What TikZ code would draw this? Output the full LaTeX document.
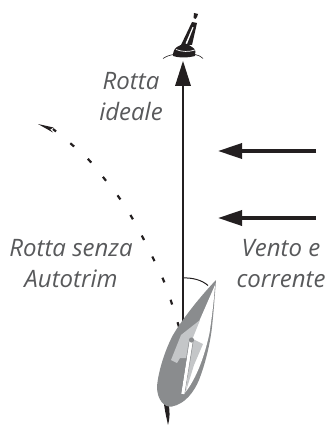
\documentclass[tikz,border=0pt]{standalone}
\usepackage{fontspec}
\setmainfont{Open Sans}
\usetikzlibrary{arrows.meta}
\definecolor{lbl}{HTML}{58595B}
\definecolor{hull}{HTML}{8A8C8E}
\definecolor{deck}{HTML}{C4C6C8}
\definecolor{ink}{HTML}{231F20}
\tikzset{
  lab/.style={text=lbl,font=\itshape\fontsize{24}{31}\selectfont,align=center,inner sep=0pt},
  shaft/.style={draw=ink,line width=2.3pt},
  fat/.style={draw=ink,line width=3.4pt,-{Triangle[length=24pt,width=15pt]}},
  dots/.style={draw=ink,line width=2.2pt,dash pattern=on 5pt off 18.5pt}
}
\begin{document}
\begin{tikzpicture}[x=1pt,y=-1pt]
\useasboundingbox (0,0) rectangle (328,425);
% labels
\node[lab] (ideale) at (131,97) {Rotta\\ideale};
\node[lab] (senza) at (71,264) {Rotta senza\\Autotrim};
\node[lab] (vento) at (281,264) {Vento e\\corrente};
% buoy
\fill[ink] (194,13) -- (198,14) -- (197,17) -- (195.5,19) -- (193.5,18) -- cycle;
\fill[ink] (192,22) -- (197,23) -- (192,45) -- (181,45) -- cycle;
\fill[white] (192.5,27) -- (193.5,27.5) -- (187,44) -- (185.5,43.5) -- cycle;
\fill[ink] (177,47) .. controls (181,43.5) and (189,43.5) .. (192,47) .. controls (196,49) and (196,53) .. (195,56) .. controls (187,58) and (179,58) .. (173,56) .. controls (173,52) and (174,49) .. (177,47) -- cycle;
\draw[white,line width=.7pt] (176,49.5) .. controls (182,52) and (189,52) .. (195,50);
\draw[ink,line width=.6pt] (163,58.5) .. controls (167,56) and (170,55) .. (174,54.5);
\draw[ink,line width=.6pt] (203,58.5) .. controls (200,56) and (198,55) .. (195,54.5);
% arrows
\coordinate (ship) at (183,323);
\coordinate (top) at (183,61);
\draw[shaft] (ship) -- (183,85);
\fill[ink] (top) -- (191,86) -- (175,86) -- cycle;
\coordinate (w1a) at (316,151);\coordinate (w1b) at (218,151);
\coordinate (w2a) at (316,218);\coordinate (w2b) at (218,218);
\draw[fat] (w1a) -- (w1b);
\draw[fat] (w2a) -- (w2b);
% dotted route
\draw[dots] plot[smooth] coordinates {(179,327) (171,301) (163,279) (153,258) (142,236) (131,216) (118,196) (103,177) (88,159) (70,143) (53,129)};
\fill[ink] (38,124) -- (53.5,127.5) -- (50,129.5) -- (53,132.5) -- cycle;
% rudder
\fill[ink] (164,404) .. controls (165,412) and (167,420) .. (168,425) .. controls (170,418) and (170,411) .. (168.5,404) -- cycle;
% hull
\fill[hull] (216,280) .. controls (196,301) and (180,323) .. (173,335)
  .. controls (165,350) and (158,372) .. (157,387)
  .. controls (157,399) and (164,408) .. (172,406.5)
  .. controls (185,404) and (194,392) .. (199,380)
  .. controls (206,362) and (211,340) .. (212.5,322)
  .. controls (214,308) and (215,292) .. (216,280) -- cycle;
% white area
\fill[white] (215,285) .. controls (214,300) and (212,316) .. (209.5,333)
  .. controls (205.5,352) and (197.5,378) .. (184,394) -- (191,340) -- cycle;
% deck
\fill[deck] (200,320) -- (181,335) -- (171,360) -- (177,363) -- (180,358) -- (187,358) -- (192,340) -- cycle;
\fill[deck] (193,339) -- (203,344) -- (194,365) -- (186,391) -- (190,360) -- cycle;
% mast and boom
\draw[white,line width=3.4pt] (191,342) -- (183,394);
\draw[hull,line width=.5pt] (189,342) -- (180.5,395) -- (184.5,395.5) -- (193,342);
\fill[hull] (191.5,340) circle (2.6pt);
% angle
\draw[ink,line width=1pt] (183,278) .. controls (192,277.5) and (202,280) .. (208,285.5);
\end{tikzpicture}
\end{document}
